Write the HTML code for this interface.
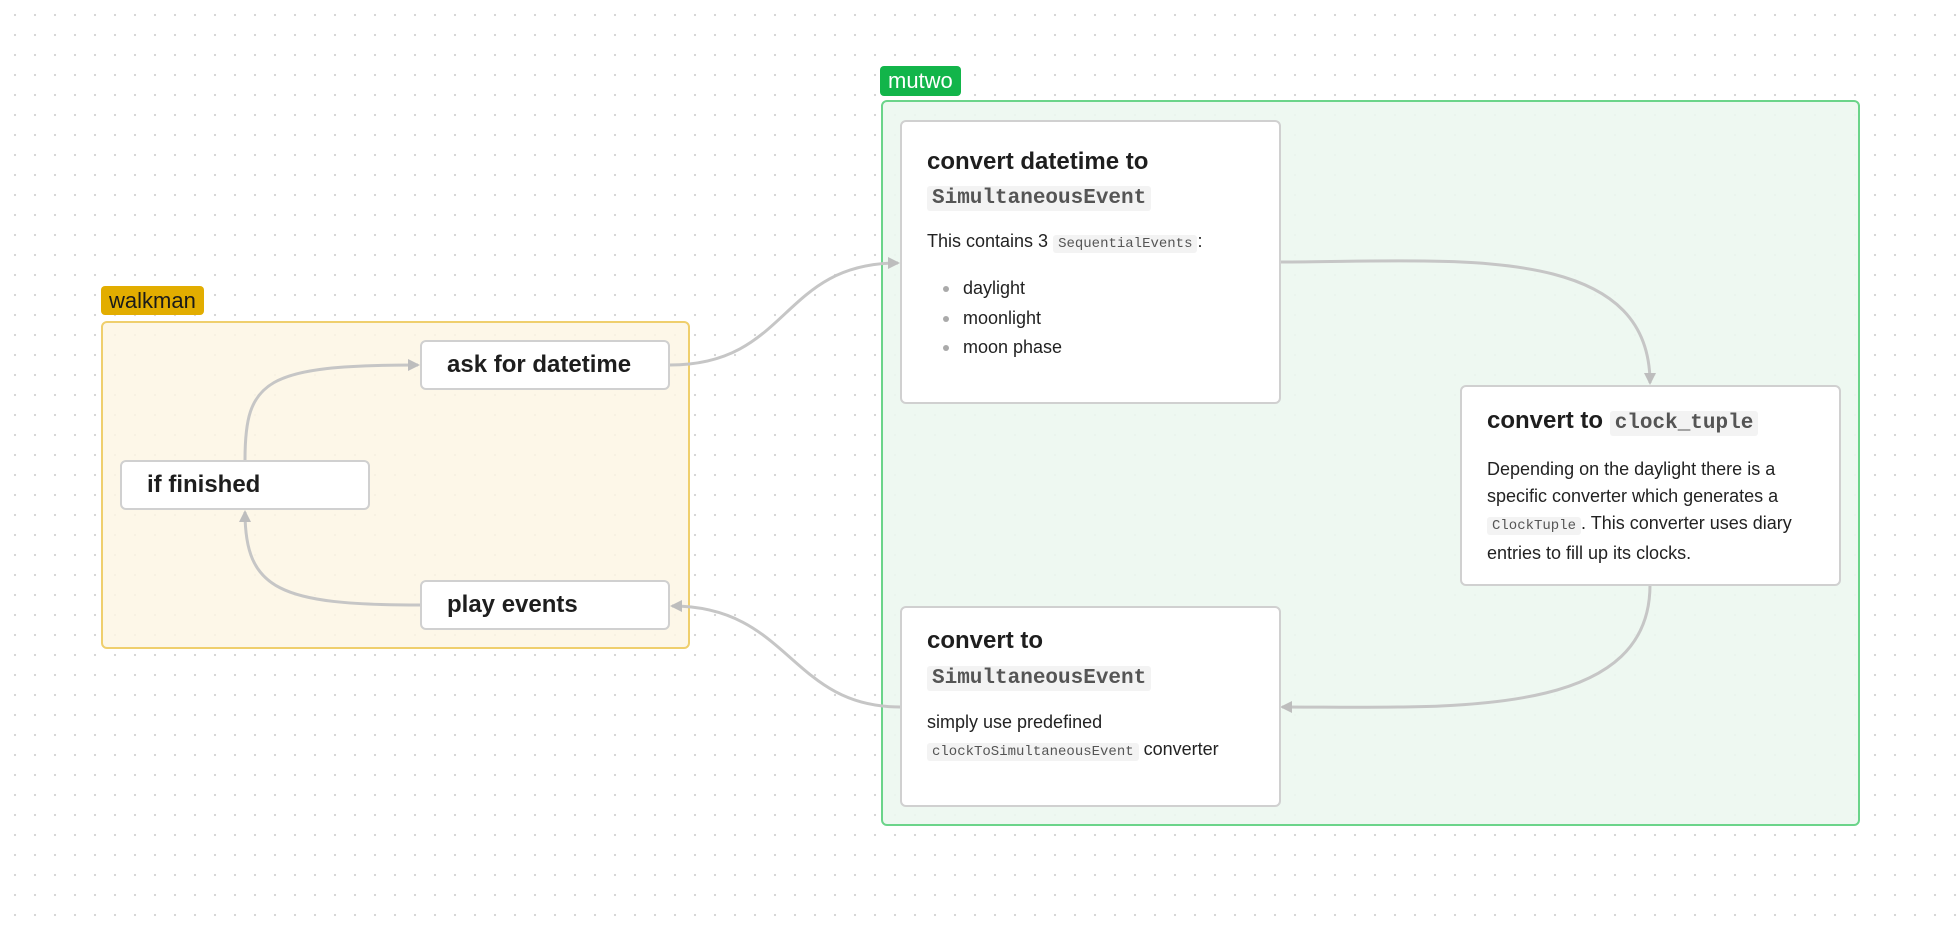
<!DOCTYPE html>
<html><head><style>
body{margin:0;width:1960px;height:927px;position:relative;overflow:hidden;font-family:"Liberation Sans",sans-serif;color:#1e1e1e;
background-color:#fff;background-image:radial-gradient(circle,#d4d4d4 1px,transparent 1.3px);background-size:20px 20px;background-position:5px 5px}
.abs{position:absolute;box-sizing:border-box}
.lbl{font-size:22px;border-radius:4px;padding:0 8px;line-height:29px}
.node{background:#fff;border:2px solid #d0d0d0;border-radius:6px}
.simple{font-size:24px;font-weight:bold;padding-left:25px;display:flex;align-items:center}
.t{position:absolute;font-size:24px;font-weight:bold;white-space:nowrap}
.c{font-family:"Liberation Mono",monospace;background:#f3f3f3;color:#555;border-radius:3px;padding:1px 5px}
.tb .c{font-weight:bold;font-size:21px}
.b{position:absolute;font-size:18px;white-space:nowrap;color:#222}
.b .c{font-size:14px}
.dot{position:absolute;width:6px;height:6px;border-radius:50%;background:#aaa}
</style></head><body>
<div class="abs" style="left:101px;top:321px;width:589px;height:328px;background:rgba(253,246,228,0.85);border:2px solid #efcf6d;border-radius:6px"></div>
<div class="abs lbl" style="left:101px;top:286px;height:29px;background:#e2ad00;color:#1a1a1a">walkman</div>
<div class="abs" style="left:881px;top:100px;width:979px;height:726px;background:rgba(236,247,240,0.9);border:2px solid #6bd48a;border-radius:6px"></div>
<div class="abs lbl" style="left:880px;top:66px;height:30px;background:#12b54a;color:#fff">mutwo</div>

<svg class="abs" style="left:0;top:0" width="1960" height="927">
<defs><marker id="a" markerWidth="12" markerHeight="12" refX="10" refY="6" orient="auto" markerUnits="userSpaceOnUse"><path d="M0,0 L12,6 L0,12z" fill="#bdbdbd"/></marker></defs>
<g fill="none" stroke="#c6c6c6" stroke-width="3">
<path d="M670,365 C790,365 780,263 898,263" marker-end="url(#a)"/>
<path d="M1280,262 C1450,262 1650,240 1650,383" marker-end="url(#a)"/>
<path d="M1650,585 C1650,720 1450,707 1282,707" marker-end="url(#a)"/>
<path d="M900,707 C790,707 790,606 672,606" marker-end="url(#a)"/>
<path d="M245,460 C245,380 265,365 418,365" marker-end="url(#a)"/>
<path d="M420,605 C280,605 245,590 245,512" marker-end="url(#a)"/>
</g></svg>

<div class="abs node simple" style="left:420px;top:340px;width:250px;height:50px">ask for datetime</div>
<div class="abs node simple" style="left:120px;top:460px;width:250px;height:50px">if finished</div>
<div class="abs node simple" style="left:420px;top:580px;width:250px;height:50px">play events</div>

<div class="abs node" style="left:900px;top:120px;width:381px;height:284px">
<div class="t tb" style="left:25px;top:26px">convert datetime to</div>
<div class="t tb" style="left:25px;top:60px"><span class="c">SimultaneousEvent</span></div>
<div class="b" style="left:25px;top:109px">This contains 3 <span class="c">SequentialEvents</span>:</div>
<div class="dot" style="left:41px;top:164px"></div><div class="b" style="left:61px;top:156px">daylight</div>
<div class="dot" style="left:41px;top:194px"></div><div class="b" style="left:61px;top:186px">moonlight</div>
<div class="dot" style="left:41px;top:223px"></div><div class="b" style="left:61px;top:215px">moon phase</div>
</div>

<div class="abs node" style="left:1460px;top:385px;width:381px;height:201px">
<div class="t tb" style="left:25px;top:20px">convert to <span class="c">clock_tuple</span></div>
<div class="b" style="left:25px;top:69px;line-height:27px">Depending on the daylight there is a<br>specific converter which generates a<br><span class="c">ClockTuple</span>. This converter uses diary<br>entries to fill up its clocks.</div>
</div>

<div class="abs node" style="left:900px;top:606px;width:381px;height:201px">
<div class="t tb" style="left:25px;top:19px">convert to</div>
<div class="t tb" style="left:25px;top:54px"><span class="c">SimultaneousEvent</span></div>
<div class="b" style="left:25px;top:101px;line-height:27px">simply use predefined<br><span class="c">clockToSimultaneousEvent</span> converter</div>
</div>
</body></html>
